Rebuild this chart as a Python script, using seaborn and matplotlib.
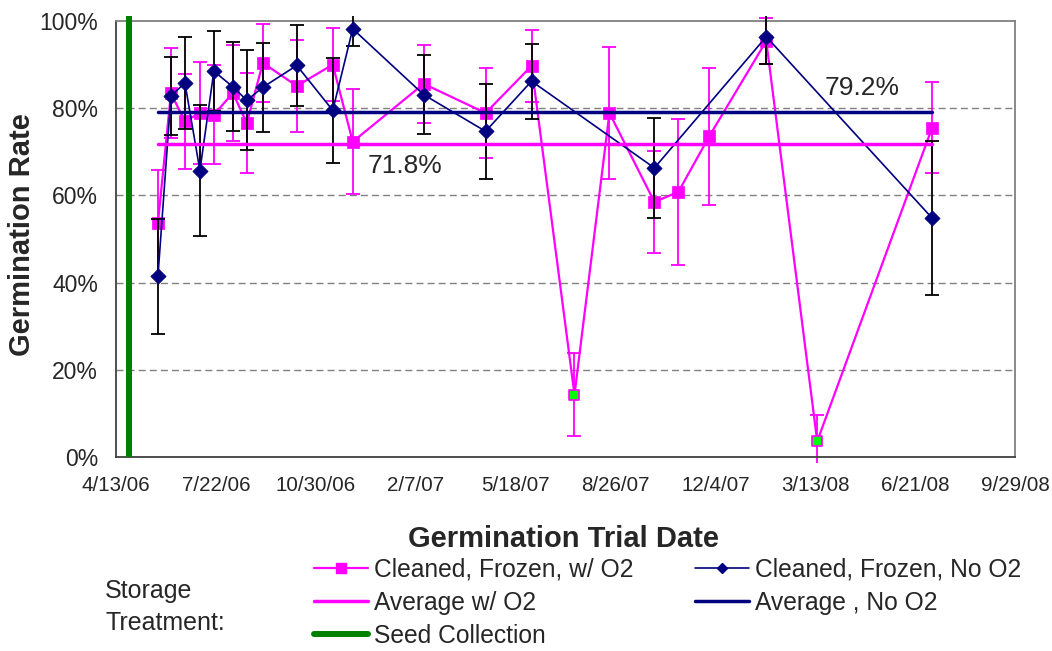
import numpy as np
import pandas as pd
import matplotlib
matplotlib.use("Agg")
import matplotlib.pyplot as plt
from matplotlib.lines import Line2D
from matplotlib.transforms import Bbox, TransformedBbox
from matplotlib.ticker import PercentFormatter
import seaborn as sns

# ---------------- data ----------------
o2_dates = ["2006-05-25", "2006-06-07", "2006-06-21", "2006-07-06", "2006-07-20",
            "2006-08-08", "2006-08-22", "2006-09-07", "2006-10-11", "2006-11-16",
            "2006-12-06", "2007-02-15", "2007-04-18", "2007-06-03", "2007-07-16",
            "2007-08-20", "2007-10-04", "2007-10-28", "2007-11-28", "2008-01-24",
            "2008-03-15", "2008-07-08"]
o2_rate = [0.537, 0.834, 0.770, 0.789, 0.785, 0.835, 0.766, 0.904, 0.851, 0.900,
           0.723, 0.856, 0.789, 0.897, 0.143, 0.789, 0.585, 0.608, 0.736, 0.954,
           0.036, 0.755]
o2_err = [0.122, 0.103, 0.109, 0.118, 0.114, 0.110, 0.115, 0.090, 0.105, 0.084,
          0.120, 0.089, 0.103, 0.083, 0.095, 0.152, 0.117, 0.168, 0.157, 0.052,
          0.060, 0.104]
o2_flagged = ["2007-07-16", "2008-03-15"]

noo2_dates = ["2006-05-25", "2006-06-07", "2006-06-21", "2006-07-06", "2006-07-20",
              "2006-08-08", "2006-08-22", "2006-09-07", "2006-10-11", "2006-11-16",
              "2006-12-06", "2007-02-15", "2007-04-18", "2007-06-03", "2007-10-04",
              "2008-01-24", "2008-07-08"]
noo2_rate = [0.415, 0.828, 0.858, 0.657, 0.885, 0.849, 0.818, 0.848, 0.898, 0.795,
             0.982, 0.831, 0.747, 0.862, 0.663, 0.964, 0.548]
noo2_err = [0.132, 0.089, 0.106, 0.150, 0.092, 0.102, 0.115, 0.102, 0.093, 0.120,
            0.039, 0.091, 0.109, 0.086, 0.115, 0.062, 0.176]

avg_o2 = 0.718
avg_noo2 = 0.792
seed_collection = "2006-04-26"

x_tick_dates = ["2006-04-13", "2006-07-22", "2006-10-30", "2007-02-07", "2007-05-18",
                "2007-08-26", "2007-12-04", "2008-03-13", "2008-06-21", "2008-09-29"]
x_tick_labels = ["4/13/06", "7/22/06", "10/30/06", "2/7/07", "5/18/07",
                 "8/26/07", "12/4/07", "3/13/08", "6/21/08", "9/29/08"]
y_ticks = [0.0, 0.2, 0.4, 0.6, 0.8, 1.0]

labels = ["Cleaned, Frozen, w/ O2", "Cleaned, Frozen, No O2",
          "Average w/ O2", "Average , No O2", "Seed Collection"]

# ---------------- style ----------------
sns.set_style("white")
plt.rcParams["font.family"] = ["Liberation Sans", "DejaVu Sans"]

PINK = "#FF00FF"
NAVY = "#000080"
GREEN = "#008000"
LIME = "#00FF00"

df_o2 = pd.DataFrame({"date": pd.to_datetime(o2_dates), "rate": o2_rate, "err": o2_err})
df_o2["flag"] = df_o2["date"].isin(pd.to_datetime(o2_flagged))
df_no = pd.DataFrame({"date": pd.to_datetime(noo2_dates), "rate": noo2_rate, "err": noo2_err})

fig = plt.figure(figsize=(10.52, 6.51), dpi=100)
ax = fig.add_axes([116 / 1052, 1 - 457 / 651, 899 / 1052, 436 / 651])

clip = TransformedBbox(Bbox([[-0.05, -0.014], [1.05, 1.012]]), ax.transAxes)


def draw_err(df, color, z):
    eb = ax.errorbar(df["date"], df["rate"], yerr=df["err"], fmt="none",
                     ecolor=color, elinewidth=1.3, capsize=4.7, capthick=1.3, zorder=z)
    for a in list(eb.lines[1]) + list(eb.lines[2]):
        a.set_clip_box(clip)


# pink series
draw_err(df_o2, PINK, 2)
sns.lineplot(data=df_o2, x="date", y="rate", color=PINK, lw=1.6, ax=ax,
             sort=True, zorder=3, estimator=None)
norm = df_o2[~df_o2["flag"]]
flag = df_o2[df_o2["flag"]]
sns.scatterplot(data=norm, x="date", y="rate", marker="s", s=75, color=PINK,
                edgecolor=PINK, linewidth=0.5, ax=ax, zorder=4)
sns.scatterplot(data=flag, x="date", y="rate", marker="s", s=45, color=LIME,
                edgecolor=PINK, linewidth=1.2, ax=ax, zorder=4)

# navy series
draw_err(df_no, "black", 5)
sns.lineplot(data=df_no, x="date", y="rate", color=NAVY, lw=1.2, ax=ax,
             sort=True, zorder=6, estimator=None)
sns.scatterplot(data=df_no, x="date", y="rate", marker="D", s=60, color=NAVY,
                edgecolor=NAVY, linewidth=0.5, ax=ax, zorder=7)

# averages
span = [df_o2["date"].min(), df_o2["date"].max()]
sns.lineplot(x=span, y=[avg_o2, avg_o2], color=PINK, lw=2.5, ax=ax, zorder=8)
sns.lineplot(x=span, y=[avg_noo2, avg_noo2], color=NAVY, lw=2.5, ax=ax, zorder=8)

# seed collection
ax.axvline(pd.Timestamp(seed_collection), ymin=0, ymax=1.012, color=GREEN, lw=4.3,
           clip_on=False, zorder=9, solid_capstyle="butt")

ax.text(0.321, 0.667, f"{avg_o2 * 100:.1f}%", transform=ax.transAxes, ha="center",
        va="center", fontsize=19, zorder=10)
ax.text(0.830, 0.846, f"{avg_noo2 * 100:.1f}%", transform=ax.transAxes, ha="center",
        va="center", fontsize=19, zorder=10)

# axes
ax.set_xlim(pd.Timestamp(x_tick_dates[0]), pd.Timestamp(x_tick_dates[-1]))
ax.set_ylim(0, 1)
ax.set_xticks(pd.to_datetime(x_tick_dates))
ax.set_xticklabels(x_tick_labels, fontsize=14.8)
ax.set_yticks(y_ticks)
ax.yaxis.set_major_formatter(PercentFormatter(1.0, decimals=0))
for t in ax.get_yticklabels():
    t.set_fontsize(16.5)
ax.set_xlabel("")
ax.set_ylabel("")
ax.tick_params(axis="y", direction="inout", length=10, width=1, color="#404040", pad=8)
ax.tick_params(axis="x", direction="out", length=6, width=1, color="#404040", pad=8)
ax.grid(False)
for yv in y_ticks[1:-1]:
    ax.axhline(yv, color="#808080", lw=1, ls=(0, (5, 3)), zorder=1)

for side in ["top", "right"]:
    ax.spines[side].set_color("#808080")
    ax.spines[side].set_linewidth(1.3)
for side in ["left", "bottom"]:
    ax.spines[side].set_color("#404040")
    ax.spines[side].set_linewidth(1.3)
ax.set_facecolor("white")
if ax.get_legend() is not None:
    ax.get_legend().remove()

fig.text(22.5 / 1052, 1 - 235 / 651, "Germination Rate", rotation=90, ha="center",
         va="center", fontsize=21, fontweight="bold")
fig.text(564 / 1052, 1 - 539 / 651, "Germination Trial Date", ha="center",
         va="center", fontsize=21, fontweight="bold")
fig.text(105 / 1052, 1 - 607 / 651, "Storage\nTreatment:", ha="left", va="center",
         fontsize=18, linespacing=1.45)

handles = [
    Line2D([], [], color=PINK, lw=1.6, marker="s", ms=7, mec=PINK),
    Line2D([], [], color=PINK, lw=2.5),
    Line2D([], [], color=GREEN, lw=4.3),
    Line2D([], [], color=NAVY, lw=1.2, marker="D", ms=5.5, mec=NAVY),
    Line2D([], [], color=NAVY, lw=2.5),
]
hl = [labels[0], labels[2], labels[4], labels[1], labels[3]]
fig.legend(handles, hl, ncol=2, loc="upper left",
           bbox_to_anchor=(313.6 / 1052, 1 - 558 / 651), frameon=False,
           borderpad=0, borderaxespad=0, handlelength=2.2, handletextpad=0.25,
           columnspacing=2.5, labelspacing=0.36, fontsize=17.7)

fig.savefig("out.png", dpi=100)
